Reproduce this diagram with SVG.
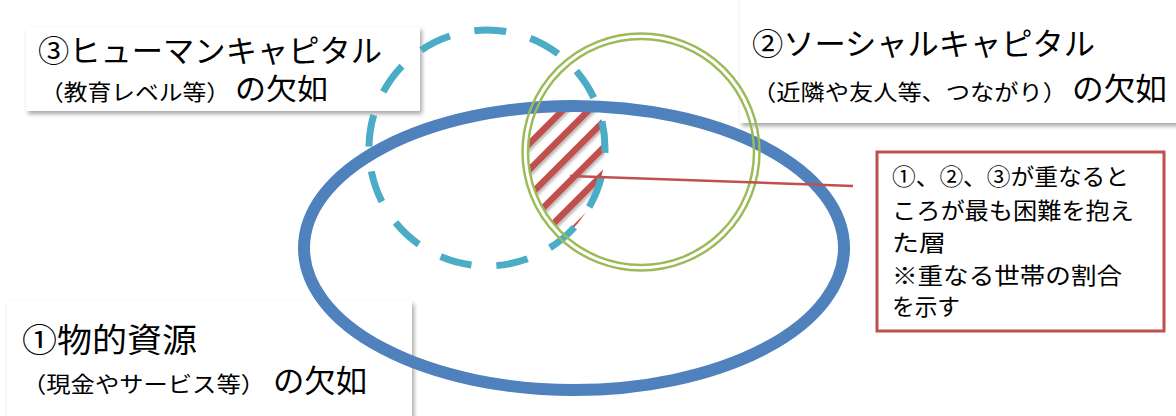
<svg xmlns="http://www.w3.org/2000/svg" width="1176" height="416" viewBox="0 0 1176 416">
<defs>
<filter id="sh" x="-5%" y="-10%" width="115%" height="130%"><feDropShadow dx="2" dy="3" stdDeviation="2" flood-color="#000" flood-opacity="0.35"/></filter>
<filter id="sh2" x="-20%" y="-20%" width="150%" height="150%"><feDropShadow dx="1.5" dy="2" stdDeviation="1.5" flood-color="#000" flood-opacity="0.3"/></filter>
<clipPath id="cBlue"><ellipse cx="574" cy="248" rx="270" ry="142"/></clipPath>
<clipPath id="cCyan"><circle cx="487" cy="148" r="118"/></clipPath>
<clipPath id="cGreen"><circle cx="641" cy="152" r="113"/></clipPath>
<style>
.t{font-family:"Noto Sans CJK JP","Liberation Sans",sans-serif;fill:#000}
.big{font-size:31px}
.sm{font-size:22px}
.nt{font-size:23px}
.box{fill:#fff;filter:url(#sh)}
.hatch line{stroke:#c0504d;stroke-width:6.5}
</style>
</defs>
<rect width="1176" height="416" fill="#fff"/>
<g id="box3"><rect class="box" x="26" y="27" width="394" height="84"/>
<text class="t big" x="38" y="62" textLength="344" lengthAdjust="spacingAndGlyphs">③ヒューマンキャピタル</text>
<text class="t sm" x="40" y="100" textLength="190" lengthAdjust="spacingAndGlyphs">（教育レベル等）</text>
<text class="t big" x="235" y="100" style="font-size:29px" textLength="93" lengthAdjust="spacingAndGlyphs">の欠如</text></g>
<g id="box2"><rect class="box" x="740" y="-4" width="440" height="127"/>
<text class="t big" x="752" y="55" textLength="343" lengthAdjust="spacingAndGlyphs">②ソーシャルキャピタル</text>
<text class="t sm" x="752" y="100" textLength="315" lengthAdjust="spacingAndGlyphs">（近隣や友人等、つながり）</text>
<text class="t big" x="1072" y="100" textLength="95" lengthAdjust="spacingAndGlyphs">の欠如</text></g>
<g id="box1"><rect class="box" x="7" y="301" width="405" height="120"/>
<text class="t big" x="22" y="352" style="font-size:33px" textLength="175" lengthAdjust="spacingAndGlyphs">①物的資源</text>
<text class="t sm" x="22" y="392" textLength="243" lengthAdjust="spacingAndGlyphs">（現金やサービス等）</text>
<text class="t big" x="273" y="392" textLength="94" lengthAdjust="spacingAndGlyphs">の欠如</text></g>
<g id="hatch"><g clip-path="url(#cBlue)"><g clip-path="url(#cCyan)"><g clip-path="url(#cGreen)">
<g class="hatch" filter="url(#sh2)">
<line x1="510" y1="163" x2="620" y2="53"/>
<line x1="510" y1="189" x2="620" y2="79"/>
<line x1="510" y1="215" x2="620" y2="105"/>
<line x1="510" y1="241" x2="620" y2="131"/>
<line x1="510" y1="267" x2="620" y2="157"/>
<line x1="510" y1="293" x2="620" y2="183"/>
</g></g></g></g></g>
<g id="blue"><ellipse cx="574" cy="248" rx="270" ry="142" fill="none" stroke="#4f81bd" stroke-width="12"/></g>
<g id="cyan"><circle cx="487" cy="148" r="118" fill="none" stroke="#4bacc6" stroke-width="7" stroke-dasharray="32 25.03" stroke-dashoffset="27.2"/></g>
<g id="green"><circle cx="641" cy="152" r="118.5" fill="none" stroke="#9bbb59" stroke-width="2.5"/><circle cx="641" cy="152" r="113" fill="none" stroke="#9bbb59" stroke-width="2.5"/></g>
<g id="connectors"><line x1="570" y1="176" x2="853" y2="186" stroke="#c0504d" stroke-width="2.5"/></g>
<g id="note"><rect x="877" y="152" width="287" height="179" fill="#fff" stroke="#c0504d" stroke-width="3"/>
<text class="t nt" x="892" y="185" textLength="237" lengthAdjust="spacingAndGlyphs">①、②、③が重なると</text>
<text class="t nt" x="892" y="219" textLength="242" lengthAdjust="spacingAndGlyphs">ころが最も困難を抱え</text>
<text class="t nt" x="892" y="251" textLength="54" lengthAdjust="spacingAndGlyphs">た層</text>
<text class="t nt" x="892" y="284" textLength="230" lengthAdjust="spacingAndGlyphs">※重なる世帯の割合</text>
<text class="t nt" x="892" y="315" textLength="68" lengthAdjust="spacingAndGlyphs">を示す</text></g>
</svg>
